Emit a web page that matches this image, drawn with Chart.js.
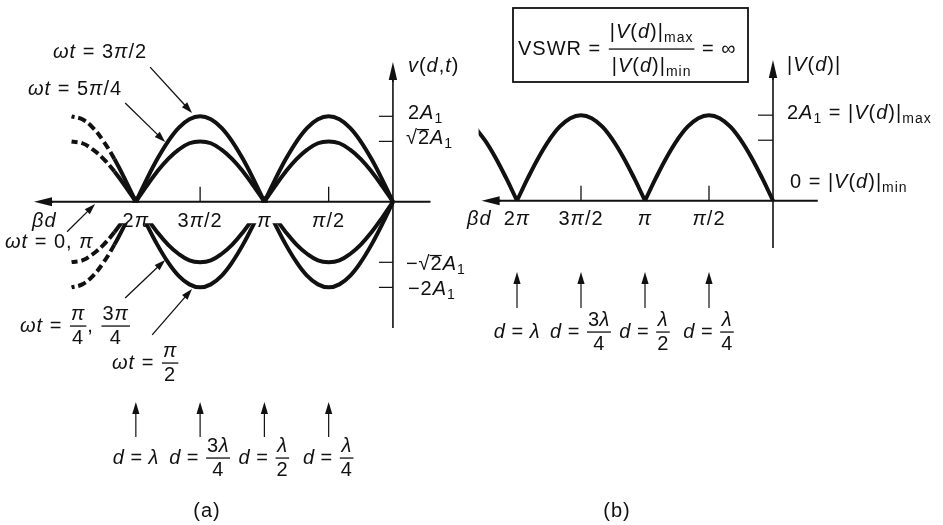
<!DOCTYPE html>
<html>
<head>
<meta charset="utf-8">
<script src="https://cdn.jsdelivr.net/npm/chart.js@4.4.0/dist/chart.umd.min.js"></script>
<style>
  html, body { margin: 0; padding: 0; background: #fff; width: 943px; height: 525px; overflow: hidden; }
  canvas { position: absolute; left: 0; top: 0; }
</style>
</head>
<body>
<canvas id="waveA" width="943" height="525"></canvas>
<canvas id="waveB" width="943" height="525"></canvas>
<script>
// βd positions (units of π) across one half-wavelength, 15° apart
const halfWaveSteps = [0, 1/12, 2/12, 3/12, 4/12, 5/12, 6/12, 7/12, 8/12, 9/12, 10/12, 11/12, 1];
// standing-wave envelope over one half-wavelength (units of A1)
const archFull = [0, 0.52, 1.00, 1.41, 1.73, 1.93, 2.00, 1.93, 1.73, 1.41, 1.00, 0.52, 0];   // ωt = 3π/2 and ωt = π/2
const archRoot2 = [0, 0.37, 0.71, 1.00, 1.22, 1.37, 1.41, 1.37, 1.22, 1.00, 0.71, 0.37, 0];  // ωt = 5π/4 and ωt = π/4, 3π/4
// |V(d)| over one half-wavelength (units of A1)
const magnitude = [0, 0.52, 1.00, 1.41, 1.73, 1.93, 2.00, 1.93, 1.73, 1.41, 1.00, 0.52, 0];
// half-waves drawn: [start βd in π, number of samples]
const spansA = [[0, 13], [1, 13], [2, 7]];
const spansB = [[0, 13], [1, 13], [2, 5]];
// βd tick positions (units of π) and their labels
const betaTicks = [2, 1.5, 1, 0.5];
const betaLabels = ['2_π_', '3_π_/2', '_π_', '_π_/2'];
const minorTicks = [1.5, 0.5];
const nodeMarks = [2, 1];
// amplitude ticks on the v(d,t) axis
const vTicks = [2, 1.414, -1.414, -2];
const vLabels = ['2_A_~1~', '√^2^_A_~1~', '−√^2^_A_~1~', '−2_A_~1~'];
const magTicks = [2, 1.414];
// distances from the load marked under each panel
const dLabels = ['_d_ = _λ_', '_d_ = [3_λ_#4]', '_d_ = [_λ_#2]', '_d_ = [_λ_#4]'];

const INK = '#111';
const FONT = '"Liberation Sans", Arial, "DejaVu Sans", sans-serif';
const SIZE = 20;

function archPoints(values, spans, sign) {
  const pts = [];
  spans.forEach(([start, count], i) => {
    if (i) pts.push({ x: start, y: null });
    for (let k = 0; k < count; k++) pts.push({ x: start + halfWaveSteps[k], y: sign * values[k] });
  });
  return pts;
}

// ---- small rich-text renderer: _italic_, ~subscript~, ^overline^, [num#den] ----
function parseRich(src) {
  const out = []; let italic = false, sub = false, over = false, buf = '';
  const flush = () => { if (buf) { out.push({ text: buf, italic, sub, over }); buf = ''; } };
  for (let i = 0; i < src.length; i++) {
    const c = src[i];
    if (c === '_') { flush(); italic = !italic; }
    else if (c === '~') { flush(); sub = !sub; }
    else if (c === '^') { flush(); over = !over; }
    else if (c === '[') {
      flush();
      const end = src.indexOf(']', i);
      const parts = src.slice(i + 1, end).split('#');
      out.push({ frac: true, num: parseRich(parts[0]), den: parseRich(parts[1]) });
      i = end;
    } else buf += c;
  }
  flush();
  return out;
}
function fontFor(run, size) {
  return (run.italic ? 'italic ' : '') + (run.sub ? Math.round(size * 0.68) : size) + 'px ' + FONT;
}
function runsWidth(ctx, runs, size) {
  let w = 0;
  runs.forEach(r => {
    if (r.frac) w += Math.max(runsWidth(ctx, r.num, size), runsWidth(ctx, r.den, size)) + 4;
    else { ctx.font = fontFor(r, size); w += ctx.measureText(r.text).width; }
  });
  return w;
}
function drawRuns(ctx, runs, x, y, size, o) {
  runs.forEach(r => {
    if (r.frac) {
      const nw = runsWidth(ctx, r.num, size), dw = runsWidth(ctx, r.den, size);
      const w = Math.max(nw, dw) + 4;
      drawRuns(ctx, r.num, x + (w - nw) / 2, y - size * (o.up || 0.56), size, o);
      drawRuns(ctx, r.den, x + (w - dw) / 2, y + size * (o.down || 0.62), size, o);
      ctx.fillRect(x + 1, y - 0.6, w - 2, 1.3);
      x += w;
    } else {
      ctx.font = fontFor(r, size);
      const w = ctx.measureText(r.text).width;
      ctx.fillText(r.text, x, y + (r.sub ? size * 0.3 : 0));
      if (r.over) ctx.fillRect(x - 1, y - size * 0.47, w, 1.2);
      x += w;
    }
  });
  return x;
}
function rich(ctx, src, x, y, o = {}) {
  const size = o.size || SIZE;
  ctx.save();
  ctx.fillStyle = INK;
  ctx.textBaseline = 'middle';
  ctx.textAlign = 'left';
  if ('letterSpacing' in ctx) ctx.letterSpacing = (o.spacing != null ? o.spacing : 1) + 'px';
  const runs = parseRich(src);
  const w = runsWidth(ctx, runs, size);
  drawRuns(ctx, runs, o.align === 'center' ? x - w / 2 : x, y, size, o);
  ctx.restore();
}

function arrow(ctx, x1, y1, x2, y2, head = 11, half = 3.6, lw = 1.3) {
  const a = Math.atan2(y2 - y1, x2 - x1), c = Math.cos(a), s = Math.sin(a);
  ctx.save();
  ctx.strokeStyle = INK; ctx.fillStyle = INK; ctx.lineWidth = lw;
  ctx.beginPath(); ctx.moveTo(x1, y1); ctx.lineTo(x2 - c * head * 0.7, y2 - s * head * 0.7); ctx.stroke();
  ctx.beginPath();
  ctx.moveTo(x2, y2);
  ctx.lineTo(x2 - c * head - s * half, y2 - s * head + c * half);
  ctx.lineTo(x2 - c * head + s * half, y2 - s * head - c * half);
  ctx.closePath(); ctx.fill();
  ctx.restore();
}
function line(ctx, x1, y1, x2, y2, lw) {
  ctx.save(); ctx.strokeStyle = INK; ctx.lineWidth = lw;
  ctx.beginPath(); ctx.moveTo(x1, y1); ctx.lineTo(x2, y2); ctx.stroke(); ctx.restore();
}

const solidCurve = { borderColor: INK, borderWidth: 4, pointRadius: 0, tension: 0.4, fill: false };
// beyond βd = 2π the instantaneous curves continue dashed
const waveCurve = Object.assign({}, solidCurve, {
  segment: { borderDash: c => (c.p0.parsed.x > 2.1 ? [8, 4] : undefined) }
});

// the band under the βd axis is left free for the tick labels
const labelBand = {
  id: 'labelBand',
  beforeDatasetDraw(chart, args) {
    if (!chart.data.datasets[args.index].below) return;
    const { x, y } = chart.scales, ctx = chart.ctx;
    ctx.save();
    ctx.beginPath();
    ctx.rect(0, 0, chart.width, chart.height);
    ctx.rect(x.getPixelForValue(2.75), y.getPixelForValue(0) - 2, x.getPixelForValue(0.2) - x.getPixelForValue(2.75), y.getPixelForValue(-0.5) - y.getPixelForValue(0) + 2);
    ctx.clip('evenodd');
  },
  afterDatasetDraw(chart, args) {
    if (chart.data.datasets[args.index].below) chart.ctx.restore();
  }
};

const panelA = {
  id: 'panelA',
  afterDraw(chart) {
    const ctx = chart.ctx, { x, y } = chart.scales, area = chart.chartArea;
    const px = v => x.getPixelForValue(v), py = v => y.getPixelForValue(v);
    const x0 = px(0), y0 = py(0);
    // axes
    line(ctx, area.left + 8, y0, area.right - 1, y0, 2);
    arrow(ctx, area.left + 20, y0, area.left + 1, y0, 18, 4.5, 2);
    line(ctx, x0, area.bottom, x0, area.top + 10, 1.6);
    arrow(ctx, x0, area.top + 20, x0, area.top, 18, 4.2, 1.6);
    vTicks.forEach((v, i) => {
      line(ctx, x0 - 14, py(v), x0, py(v), 1.2);
      rich(ctx, vLabels[i], x0 + (i % 3 === 0 ? 15 : 13), py(v) + (v > 0 ? -3 : 2));
    });
    minorTicks.forEach(v => line(ctx, px(v), y0 - 15, px(v), y0, 1.3));
    ctx.save(); ctx.fillStyle = INK;
    nodeMarks.forEach(v => {
      ctx.beginPath();
      ctx.moveTo(px(v) - 4, y0 + 1); ctx.lineTo(px(v) + 4, y0 + 1); ctx.lineTo(px(v), y0 - 6);
      ctx.closePath(); ctx.fill();
    });
    ctx.restore();
    betaTicks.forEach((v, i) => rich(ctx, betaLabels[i], px(v), y0 + 20, { align: 'center' }));
    rich(ctx, '_βd_', 32, y0 + 20);
    rich(ctx, '_v_(_d_,_t_)', x0 + 15, 66);

    // curve annotations
    rich(ctx, '_ωt_ = 3_π_/2', 53, 52);
    arrow(ctx, px(1.889), py(3.15), px(1.563), py(2.08));
    rich(ctx, '_ωt_ = 5_π_/4', 28, 89);
    arrow(ctx, px(2.083), py(2.31), px(1.772), py(1.40));
    arrow(ctx, px(2.535), py(-0.70), px(2.317), py(-0.05));
    rich(ctx, '_ωt_ = 0, _π_', 5, 242);
    rich(ctx, '_ωt_ = [_π_#4], [3_π_#4]', 20, 326);
    arrow(ctx, px(2.083), py(-2.25), px(1.772), py(-1.36));
    rich(ctx, '_ωt_ = [_π_#2]', 112, 363);
    arrow(ctx, px(1.873), py(-3.11), px(1.563), py(-2.04));

    // distance markers
    betaTicks.forEach((v, i) => {
      arrow(ctx, px(v), 437, px(v), 402, 12, 3.6, 1.2);
      rich(ctx, dLabels[i], px(v), 458, { align: 'center', spacing: 0.5 });
    });
    rich(ctx, '(a)', 207, 511, { align: 'center' });
  }
};

const panelB = {
  id: 'panelB',
  afterDraw(chart) {
    const ctx = chart.ctx, { x, y } = chart.scales, area = chart.chartArea;
    const px = v => x.getPixelForValue(v), py = v => y.getPixelForValue(v);
    const x0 = px(0), y0 = py(0);
    line(ctx, area.left + 10, y0, area.right, y0, 2);
    arrow(ctx, area.left + 22, y0, area.left + 3, y0, 18, 4.5, 2);
    line(ctx, x0, area.bottom, x0, area.top + 10, 1.6);
    arrow(ctx, x0, area.top + 20, x0, area.top, 18, 4.2, 1.6);
    magTicks.forEach(v => line(ctx, x0 - 15, py(v), x0, py(v), 1.2));
    minorTicks.forEach(v => line(ctx, px(v), y0 - 15, px(v), y0, 1.3));
    betaTicks.forEach((v, i) => rich(ctx, betaLabels[i], px(v), y0 + 19, { align: 'center' }));
    rich(ctx, '_βd_', 467, y0 + 19);

    rich(ctx, '|_V_(_d_)|', x0 + 14, 65);
    rich(ctx, '2_A_~1~ = |_V_(_d_)|~max~', x0 + 14, py(2) - 2);
    rich(ctx, '0 = |_V_(_d_)|~min~', x0 + 17, 182);

    // VSWR box
    ctx.save(); ctx.strokeStyle = INK; ctx.lineWidth = 1.8;
    ctx.strokeRect(513, 8, 235, 74); ctx.restore();
    rich(ctx, 'VSWR = [|_V_(_d_)|~max~#|_V_(_d_)|~min~] = ∞', 518, 49, { up: 0.82, down: 0.88 });

    betaTicks.forEach((v, i) => {
      arrow(ctx, px(v), 308, px(v), 272, 12, 3.6, 1.2);
      rich(ctx, dLabels[i], px(v), 332, { align: 'center', spacing: 0.5 });
    });
    rich(ctx, '(b)', 617, 511, { align: 'center' });
  }
};

const baseOptions = (pad, xr, yr) => ({
  responsive: false,
  animation: false,
  events: [],
  layout: { padding: pad },
  scales: {
    x: { type: 'linear', reverse: true, min: xr[0], max: xr[1], display: false },
    y: { type: 'linear', min: yr[0], max: yr[1], display: false }
  },
  plugins: { legend: { display: false }, tooltip: { enabled: false } }
});

new Chart(document.getElementById('waveA'), {
  type: 'line',
  data: {
    datasets: [
      Object.assign({ label: 'ωt = 3π/2', data: archPoints(archFull, spansA, 1) }, waveCurve),
      Object.assign({ label: 'ωt = 5π/4', data: archPoints(archRoot2, spansA, 1) }, waveCurve),
      Object.assign({ label: 'ωt = π/4, 3π/4', below: true, data: archPoints(archRoot2, spansA, -1) }, waveCurve),
      Object.assign({ label: 'ωt = π/2', below: true, data: archPoints(archFull, spansA, -1) }, waveCurve)
    ]
  },
  options: baseOptions({ left: 33, right: 511.5, top: 62, bottom: 197 }, [-0.3, 2.8], [-2.95, 3.27]),
  plugins: [labelBand, panelA]
});

new Chart(document.getElementById('waveB'), {
  type: 'line',
  data: {
    datasets: [
      Object.assign({ label: '|V(d)|', data: archPoints(magnitude, spansB, 1) }, solidCurve)
    ]
  },
  options: baseOptions({ left: 478.6, right: 125.2, top: 60, bottom: 277 }, [-0.35, 2.3], [-1.106, 3.29]),
  plugins: [panelB]
});
</script>
</body>
</html>
